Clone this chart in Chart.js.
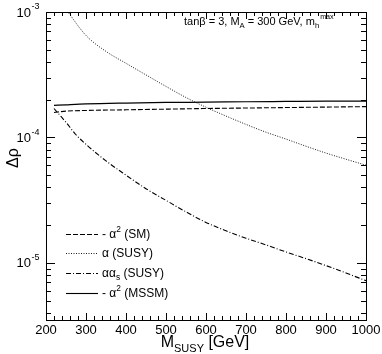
<!DOCTYPE html>
<html>
<head>
<meta charset="utf-8">
<script src="https://cdn.jsdelivr.net/npm/chart.js@4"></script>
<style>
  html, body { margin: 0; padding: 0; background: #fff; }
  #wrap { width: 382px; height: 354px; }
</style>
</head>
<body>
<div id="wrap"><canvas id="rhoChart" width="382" height="354"></canvas></div>
<script>
// --- data ---
const xTickLabels = [200, 300, 400, 500, 600, 700, 800, 900, 1000];
const yDecades = [-3, -4, -5];

const mSusyFlat = [220, 250, 300, 400, 500, 600, 700, 800, 900, 1000];
const smValues = [1.58e-4, 1.62e-4, 1.64e-4, 1.66e-4, 1.68e-4, 1.70e-4, 1.715e-4, 1.73e-4, 1.745e-4, 1.76e-4];
const mssmValues = [1.80e-4, 1.82e-4, 1.85e-4, 1.88e-4, 1.90e-4, 1.91e-4, 1.925e-4, 1.935e-4, 1.945e-4, 1.95e-4];

const mSusyAlpha = [250, 300, 350, 400, 450, 500, 550, 600, 650, 700, 750, 800, 850, 900, 950, 1000];
const alphaValues = [1.05e-3, 6.5e-4, 4.85e-4, 3.9e-4, 3.15e-4, 2.55e-4, 2.08e-4, 1.74e-4, 1.48e-4, 1.27e-4, 1.1e-4, 9.7e-5, 8.5e-5, 7.5e-5, 6.7e-5, 6.0e-5];

const mSusyAlphaS = [220, 235, 250, 275, 300, 350, 400, 450, 500, 550, 600, 650, 700, 750, 800, 850, 900, 950, 1000];
const alphaSValues = [1.7e-4, 1.5e-4, 1.32e-4, 1.05e-4, 8.8e-5, 6.5e-5, 5.0e-5, 3.9e-5, 3.15e-5, 2.55e-5, 2.1e-5, 1.8e-5, 1.57e-5, 1.39e-5, 1.22e-5, 1.08e-5, 9.5e-6, 8.3e-6, 7.2e-6];

// legend text, split into [text, style] pieces (style '' | 'sup' | 'sub')
const legendLabels = [
    [['- \u03b1', ''], ['2', 'sup'], [' (SM)', '']],
    [['\u03b1 (SUSY)', '']],
    [['\u03b1\u03b1', ''], ['s', 'sub'], [' (SUSY)', '']],
    [['- \u03b1', ''], ['2', 'sup'], [' (MSSM)', '']],
];
const legendDashes = [[5, 2], [1, 1.5], [5, 2, 1, 2], []];
const noteText = [['tan\u03b2 = 3, M', ''], ['A', 'sub'], [' = 300 GeV, m', ''], ['h', 'sub'], ['max', 'supFar']];

const FONT = '"Liberation Sans", Arial, sans-serif';

function pairs(xs, ys) {
    return xs.map((x, i) => ({ x: x, y: ys[i] }));
}

// draws a run of text pieces with sub/superscripts, returns end x
function drawPieces(ctx, pieces, x, y, size) {
    pieces.forEach(([txt, style]) => {
        let s = size, dy = 0;
        if (style === 'sup') { s = size * 0.7; dy = -size * 0.45; }
        if (style === 'supFar') { s = size * 0.65; dy = -size * 0.55; x += 1; }
        if (style === 'sub') { s = size * 0.7; dy = size * 0.3; }
        ctx.font = s + 'px ' + FONT;
        ctx.fillText(txt, x, y + dy);
        x += ctx.measureText(txt).width;
    });
    return x;
}

const framePlugin = {
    id: 'frame',
    afterDraw(chart) {
        const ctx = chart.ctx;
        const xs = chart.scales.x, ys = chart.scales.y;
        const a = chart.chartArea;
        ctx.save();
        ctx.strokeStyle = '#000';
        ctx.fillStyle = '#000';
        ctx.lineWidth = 1;
        ctx.strokeRect(a.left + 0.5, a.top + 0.5, a.right - a.left, a.bottom - a.top);

        // x ticks, inward, on bottom and top
        ctx.beginPath();
        for (let v = 200; v <= 1000; v += 20) {
            const px = Math.round(xs.getPixelForValue(v)) + 0.5;
            const len = v % 100 === 0 ? 7 : 4;
            ctx.moveTo(px, a.bottom); ctx.lineTo(px, a.bottom - len);
            ctx.moveTo(px, a.top); ctx.lineTo(px, a.top + len);
        }
        // y ticks, inward, on left and right
        for (let d = -6; d <= -3; d++) {
            for (let k = 1; k <= 9; k++) {
                const v = k * Math.pow(10, d);
                if (v < ys.min * 0.999 || v > ys.max * 1.001) continue;
                const py = Math.round(ys.getPixelForValue(v)) + 0.5;
                const len = k === 1 ? 9 : 5;
                ctx.moveTo(a.left, py); ctx.lineTo(a.left + len, py);
                ctx.moveTo(a.right, py); ctx.lineTo(a.right - len, py);
            }
        }
        ctx.stroke();

        // x tick labels
        ctx.font = '13px ' + FONT;
        ctx.textAlign = 'center';
        ctx.textBaseline = 'middle';
        xTickLabels.forEach(v => {
            ctx.fillText(String(v), xs.getPixelForValue(v), a.bottom + 10);
        });

        // y tick labels 10^d
        ctx.textAlign = 'left';
        ctx.textBaseline = 'middle';
        yDecades.forEach(d => {
            const py = ys.getPixelForValue(Math.pow(10, d));
            ctx.font = '13px ' + FONT;
            const w10 = ctx.measureText('10').width;
            ctx.font = '9px ' + FONT;
            const we = ctx.measureText(String(d)).width;
            const x0 = a.left - 7 - w10 - we;
            ctx.font = '13px ' + FONT;
            ctx.fillText('10', x0, py + 1);
            ctx.font = '9px ' + FONT;
            ctx.fillText(String(d), x0 + w10 + 0.5, py - 5);
        });

        // x axis title
        ctx.textBaseline = 'alphabetic';
        ctx.font = '16px ' + FONT;
        const wM = ctx.measureText('M').width;
        ctx.font = '11px ' + FONT;
        const wS = ctx.measureText('SUSY').width;
        ctx.font = '16px ' + FONT;
        const wG = ctx.measureText(' [GeV]').width;
        let tx = (a.left + a.right) / 2 - (wM + wS + wG) / 2 - 1;
        ctx.fillText('M', tx, 347);
        ctx.font = '11px ' + FONT;
        ctx.fillText('SUSY', tx + wM, 352);
        ctx.font = '16px ' + FONT;
        ctx.fillText(' [GeV]', tx + wM + wS, 347);

        // y axis title
        ctx.save();
        ctx.translate(18, (a.top + a.bottom) / 2 - 8);
        ctx.rotate(-Math.PI / 2);
        ctx.textAlign = 'center';
        ctx.font = '16px ' + FONT;
        ctx.fillText('\u0394\u03c1', 0, 0);
        ctx.restore();

        // annotation top-right
        ctx.textAlign = 'left';
        drawPieces(ctx, noteText, 184, 25, 11);

        // legend inside plot
        const legY = [234, 253, 273, 293];
        legendLabels.forEach((pieces, i) => {
            ctx.beginPath();
            ctx.setLineDash(legendDashes[i]);
            ctx.lineWidth = i === 1 ? 0.9 : 1.1;
            ctx.moveTo(66, legY[i] + 0.5);
            ctx.lineTo(98, legY[i] + 0.5);
            ctx.stroke();
            ctx.setLineDash([]);
            ctx.textBaseline = 'middle';
            drawPieces(ctx, pieces, 102, legY[i] + 1, 12);
        });
        ctx.restore();
    }
};

new Chart(document.getElementById('rhoChart'), {
    type: 'line',
    data: {
        datasets: [
            { label: 'SM', data: pairs(mSusyFlat, smValues), borderDash: [5, 2], borderWidth: 1.1 },
            { label: 'SUSY', data: pairs(mSusyAlpha, alphaValues), borderDash: [1, 1.5], borderWidth: 0.9 },
            { label: 'alpha_s SUSY', data: pairs(mSusyAlphaS, alphaSValues), borderDash: [5, 2, 1, 2], borderWidth: 1.1 },
            { label: 'MSSM', data: pairs(mSusyFlat, mssmValues), borderWidth: 1.2 },
        ].map(ds => Object.assign(ds, {
            borderColor: '#000',
            pointRadius: 0,
            tension: 0.4,
            cubicInterpolationMode: 'monotone',
            fill: false,
        })),
    },
    options: {
        responsive: false,
        animation: false,
        devicePixelRatio: 1,
        layout: { padding: { left: 46, top: 12, right: 16, bottom: 34 } },
        plugins: { legend: { display: false }, tooltip: { enabled: false } },
        scales: {
            x: {
                type: 'linear', min: 200, max: 1000,
                grid: { display: false }, border: { display: false },
                ticks: { display: false },
                afterFit: s => { s.height = 0; },
            },
            y: {
                type: 'logarithmic', min: 3.5e-6, max: 1e-3,
                grid: { display: false }, border: { display: false },
                ticks: { display: false },
                afterFit: s => { s.width = 0; },
            },
        },
    },
    plugins: [framePlugin],
});
</script>
</body>
</html>
